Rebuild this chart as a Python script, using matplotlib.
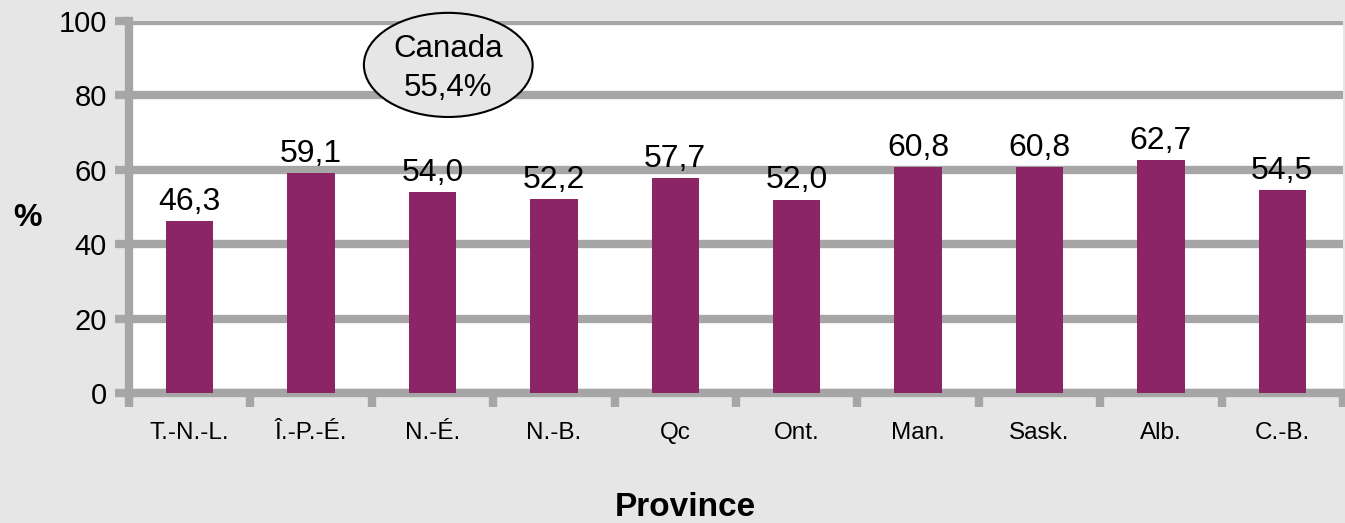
import matplotlib.pyplot as plt
from matplotlib.patches import Ellipse
import numpy as np

plt.rcParams['font.family'] = ['Liberation Sans', 'DejaVu Sans']

provinces = ['T.-N.-L.', 'Î.-P.-É.', 'N.-É.', 'N.-B.', 'Qc', 'Ont.', 'Man.', 'Sask.', 'Alb.', 'C.-B.']
values = [46.3, 59.1, 54.0, 52.2, 57.7, 52.0, 60.8, 60.8, 62.7, 54.5]
y_ticks = [0, 20, 40, 60, 80, 100]
canada_label = 'Canada\n55,4%'

bg = '#e6e6e6'
grid_col = '#a6a6a6'
bar_col = '#8b2566'

fig = plt.figure(figsize=(13.45, 5.23), dpi=100, facecolor=bg)
ax = fig.add_axes([0.0959, 0.2486, 0.9026, 0.7112])
ax.set_facecolor('white')

x = np.arange(len(provinces))
ax.bar(x, values, width=0.39, color=bar_col, zorder=3)

for xi, v in zip(x, values):
    ax.annotate(f'{v:.1f}'.replace('.', ','), (xi, v), xytext=(0, 3),
                textcoords='offset points', ha='center', va='bottom',
                fontsize=23, zorder=4)

ax.set_xlim(-0.5, len(provinces) - 0.5)
ax.set_ylim(0, 100)
ax.set_yticks(y_ticks)
ax.set_yticklabels([str(t) for t in y_ticks], fontsize=21)
ax.yaxis.grid(True, color=grid_col, linewidth=6, zorder=1)
ax.set_axisbelow(True)

ax.set_xticks(x)
ax.set_xticklabels(provinces, fontsize=17.5)
ax.tick_params(axis='x', which='major', length=0, pad=21)
ax.set_xticks(np.arange(len(provinces) + 1) - 0.5, minor=True)
ax.tick_params(axis='x', which='minor', length=10, width=6, color=grid_col)
ax.tick_params(axis='y', length=10, width=6, color=grid_col, pad=6)

for side in ['top', 'right']:
    ax.spines[side].set_visible(False)
for side in ['left', 'bottom']:
    ax.spines[side].set_color(grid_col)
    ax.spines[side].set_linewidth(6)

fig.text(27 / 1345, 1 - 218 / 523, '%', fontsize=23, fontweight='bold', ha='center', va='center')
fig.text(685 / 1345, 1 - 507 / 523, 'Province', fontsize=24, fontweight='bold', ha='center', va='center')

# bulle Canada
ell = Ellipse((2.13, 88.2), width=1.39, height=28, facecolor=bg, edgecolor='black',
              linewidth=1.5, zorder=5, clip_on=False)
ax.add_patch(ell)
ax.text(2.13, 87.3, canada_label, ha='center', va='center', fontsize=22.5,
        linespacing=1.37, zorder=6)

plt.savefig('out.png', dpi=100, facecolor=bg)
